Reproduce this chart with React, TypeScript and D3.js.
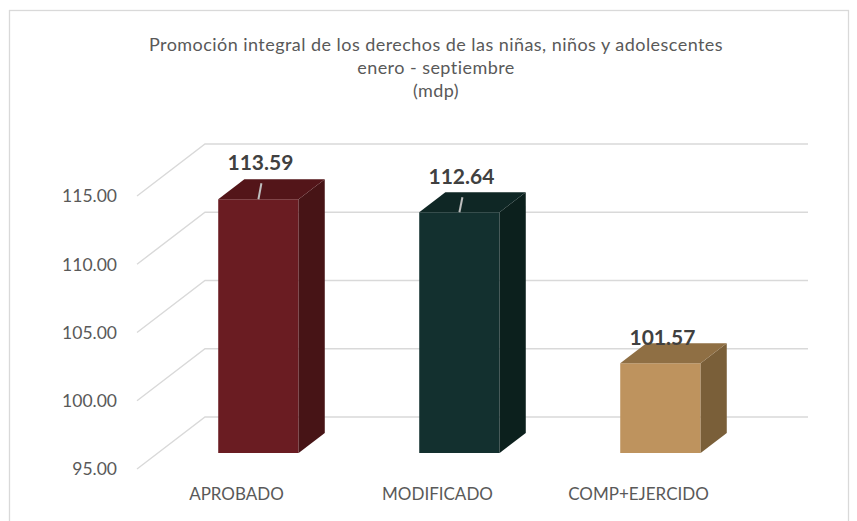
import React from "react";
import * as d3 from "d3";

const categories = ["APROBADO", "MODIFICADO", "COMP+EJERCIDO"];
const values = [113.59, 112.64, 101.57];
const tickValues = [95, 100, 105, 110, 115];
const titleLines = [
  "Promoción integral de los derechos de las niñas, niños y adolescentes",
  "enero - septiembre",
  "(mdp)",
];
const frontColors = ["#6A1C22", "#13302F", "#BE935E"];
const sideColors = ["#471416", "#0C201D", "#7A5F39"];
const topColors = ["#531519", "#0F2725", "#8F6F44"];

const W = 857;
const H = 521;
// depth projection (back wall -> front of floor)
const DX = -68;
const DY = 52;
const barBack = 16 / 52;
const barFront = 36 / 52;
const labelOffsets = [35, 34, 24];

export default function App() {
  const y = d3.scaleLinear().domain([95, 115]).range([417, 144]);
  const x = d3
    .scaleBand<string>()
    .domain(categories)
    .range([205, 808])
    .paddingInner(0.6)
    .paddingOuter(0.3);
  const P = (px: number, v: number, d: number): [number, number] => [
    px + DX * d,
    y(v) + DY * d,
  ];
  const pts = (arr: [number, number][]) => arr.map((p) => p.join(",")).join(" ");
  const font = "Lato, 'Open Sans', sans-serif";

  return (
    <svg
      width={W}
      height={H}
      style={{ position: "absolute", left: 0, top: 0, background: "#fff" }}
    >
      <rect x={9.5} y={10.5} width={839} height={530} fill="#fff" stroke="#D9D9D9" strokeWidth={1.3} />
      {titleLines.map((t, i) => (
        <text
          key={i}
          x={436}
          y={46 + i * 23}
          textAnchor="middle"
          dominantBaseline="middle"
          fontFamily={font}
          fontSize={18}
          letterSpacing={0.45}
          fill="#595959"
        >
          {t}
        </text>
      ))}
      {tickValues.map((t) => {
        const [bx, by] = P(205, t, 0);
        const [fx, fy] = P(205, t, 1);
        return (
          <g key={t}>
            <polyline
              points={pts([[808, by], [bx, by], [fx, fy]])}
              fill="none"
              stroke="#D9D9D9"
              strokeWidth={1.4}
            />
            <text
              x={117}
              y={fy + 2}
              textAnchor="end"
              dominantBaseline="middle"
              fontFamily={font}
              fontSize={17.5}
              fill="#595959"
            >
              {t.toFixed(2)}
            </text>
          </g>
        );
      })}
      {categories.map((c, i) => {
        const x0 = x(c)!;
        const x1 = x0 + x.bandwidth();
        const v = values[i];
        const ftl = P(x0, v, barFront);
        const ftr = P(x1, v, barFront);
        const fbr = P(x1, 95, barFront);
        const fbl = P(x0, 95, barFront);
        const btl = P(x0, v, barBack);
        const btr = P(x1, v, barBack);
        const bbr = P(x1, 95, barBack);
        const cx = (ftl[0] + ftr[0]) / 2;
        const ly = ftl[1] - labelOffsets[i];
        const [lx] = P(x0 + x.bandwidth() / 2, 95, 1);
        return (
          <g key={c}>
            <polygon points={pts([ftl, ftr, fbr, fbl])} fill={frontColors[i]} />
            <polygon points={pts([ftr, btr, bbr, fbr])} fill={sideColors[i]} />
            <polygon points={pts([ftl, btl, btr, ftr])} fill={topColors[i]} />
            {i < 2 && (
              <line
                x1={cx + 3}
                y1={ly + 19}
                x2={cx}
                y2={ftl[1]}
                stroke="#BFBFBF"
                strokeWidth={2}
              />
            )}
            <text
              x={cx + 2}
              y={ly}
              textAnchor="middle"
              dominantBaseline="middle"
              fontFamily={font}
              fontSize={21}
              fontWeight="bold"
              fill="#404040"
            >
              {v.toFixed(2)}
            </text>
            <text
              x={lx - 1}
              y={496}
              textAnchor="middle"
              dominantBaseline="middle"
              fontFamily={font}
              fontSize={17}
              fill="#595959"
            >
              {c}
            </text>
          </g>
        );
      })}
    </svg>
  );
}
